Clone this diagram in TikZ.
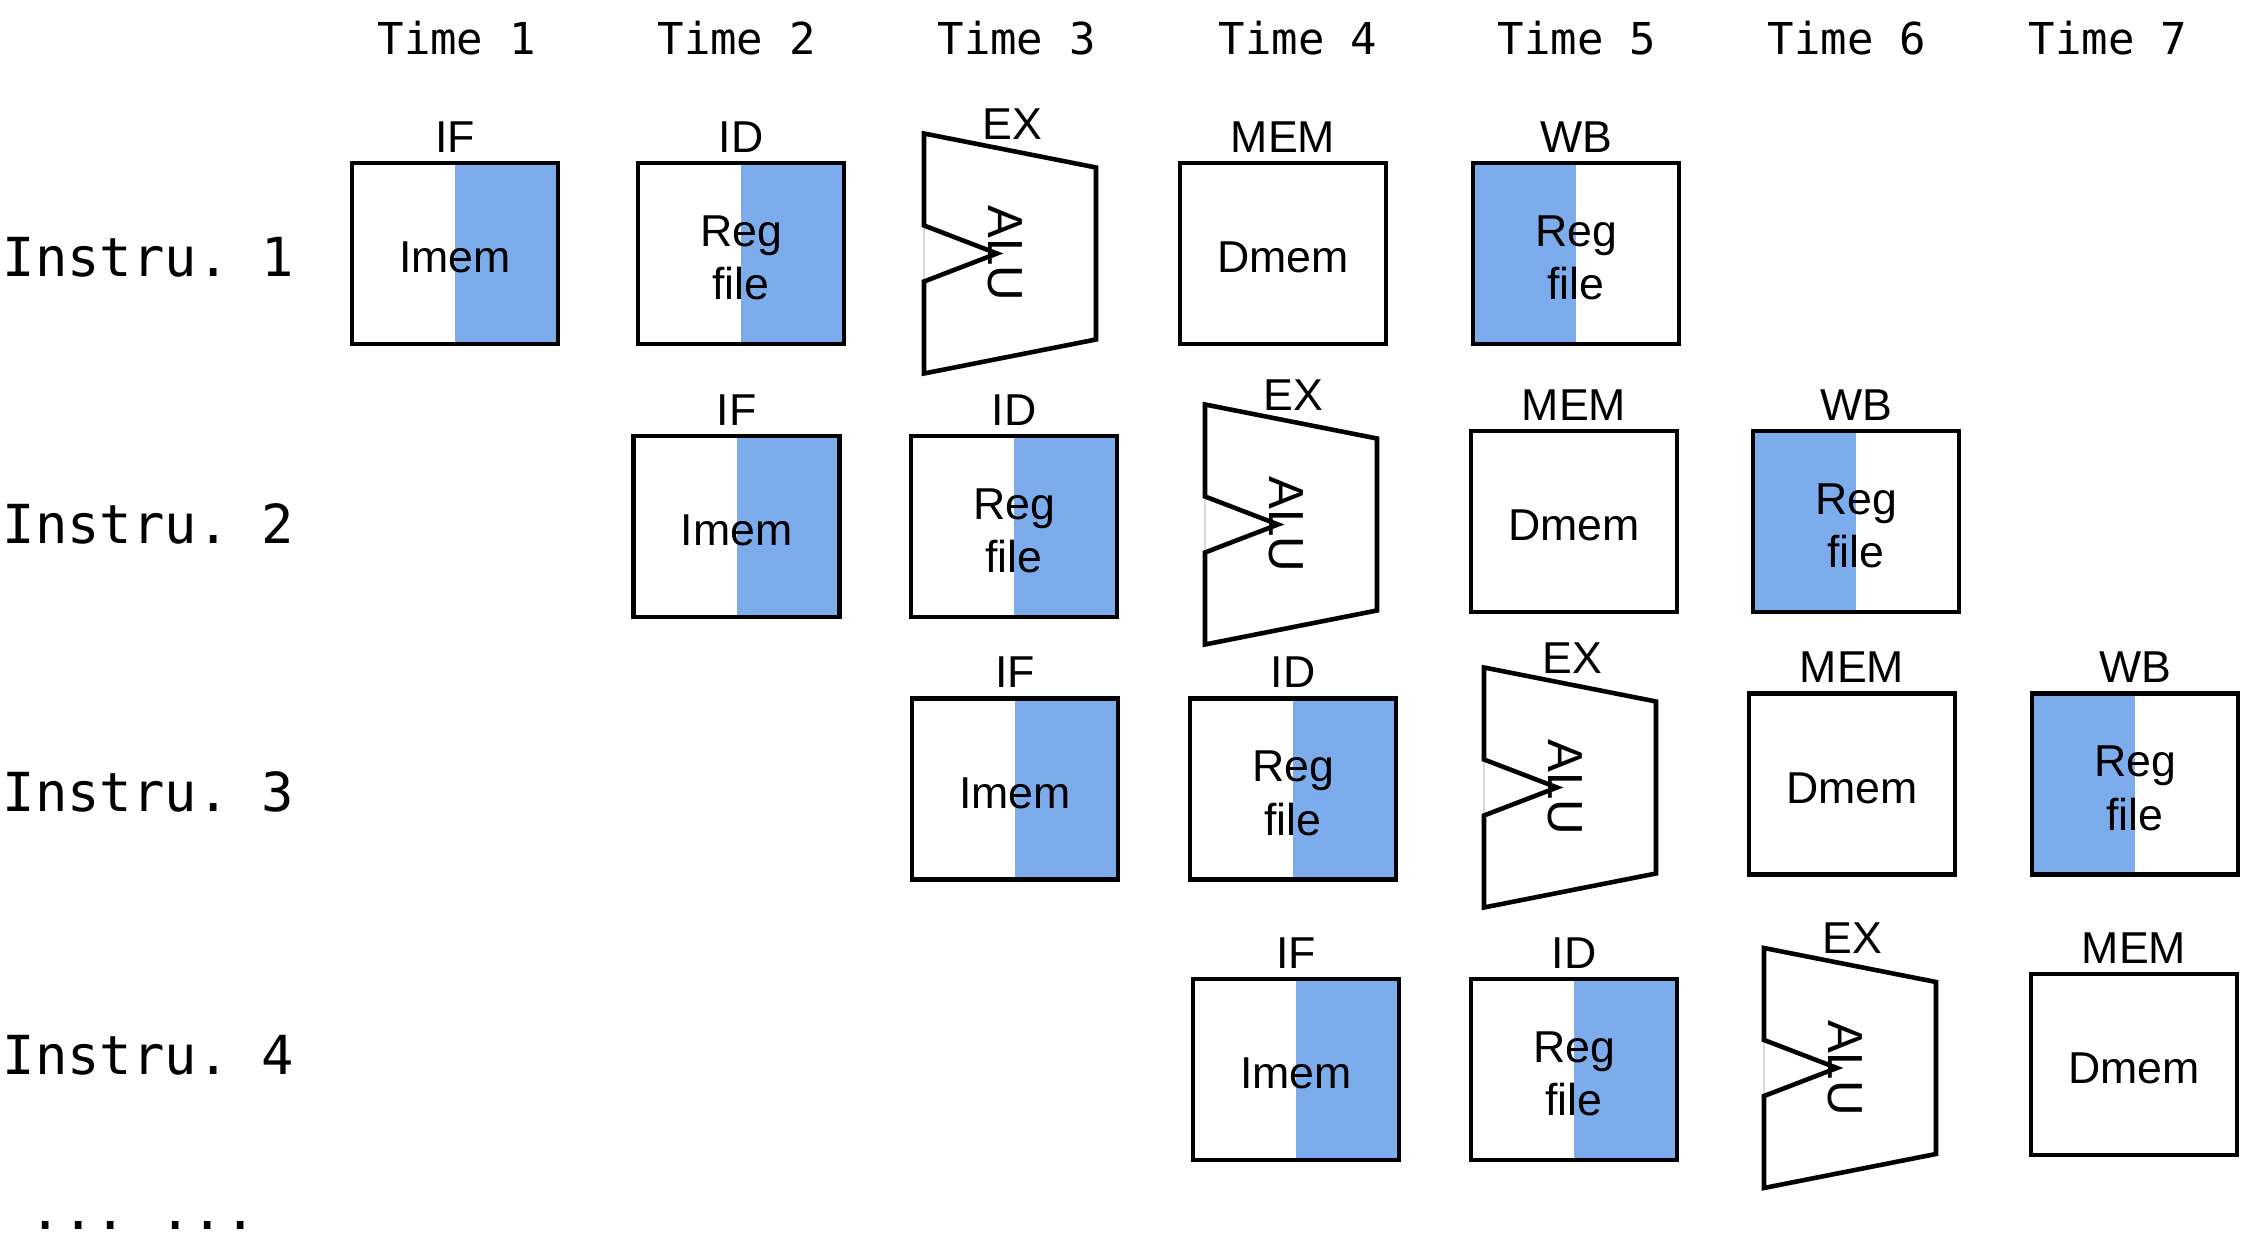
\documentclass[tikz,border=0pt]{standalone}
\usepackage{fontspec}
\setmainfont{Liberation Sans}
\setmonofont{DejaVu Sans Mono}
\usepackage{tikz}
\usetikzlibrary{positioning}
\definecolor{regblue}{RGB}{125,172,236}

\tikzset{
  ulbl/.style={inner sep=0pt, align=center, yshift=-1.2pt, font=\fontsize{12.7}{15.2}\selectfont},
  unit/.style={draw, line width=1.2pt, minimum width=2.06cm, minimum height=1.81cm,
    inner sep=0pt, label={[ulbl]center:#1}},
  rhalf/.style={unit={#1}, path picture={\fill[regblue] (path picture bounding box.north)
    rectangle (path picture bounding box.south east);}},
  lhalf/.style={unit={#1}, path picture={\fill[regblue] (path picture bounding box.north west)
    rectangle (path picture bounding box.south);}},
  stagelbl/.style={inner sep=0pt, font=\fontsize{12.7}{15.2}\selectfont},
  timelbl/.style={inner sep=0pt, anchor=base, font=\ttfamily\fontsize{12.5}{15}\selectfont},
  instlbl/.style={inner sep=0pt, anchor=base west, font=\ttfamily\fontsize{15.3}{18}\selectfont},
  alubody/.style={line width=1.3pt, line join=miter},
  alutext/.style={inner sep=0pt, rotate=-90, font=\fontsize{14}{16}\selectfont}
}

% ALU: name, left x, middle y
\newcommand{\aluunit}[3]{%
  \begin{scope}[shift={(#2,#3)}]
    \draw[gray!30, thin] (0,-28) -- (0,28);
    \draw[alubody] (0,-28) -- (0,-120) -- (172,-86) -- (172,86) -- (0,120) -- (0,28) -- (73,0) -- cycle;
    \node[alutext] (#1) at (81,0) {ALU};
    \node[stagelbl, anchor=base] (#1lbl) at (88,-114) {EX};
  \end{scope}}

\begin{document}
\begin{tikzpicture}[x=0.01cm, y=-0.01cm]
\useasboundingbox (0,0) rectangle (2262,1240);

\node[timelbl] (t1) at (457,55) {Time 1};
\node[timelbl] (t2) at (737,55) {Time 2};
\node[timelbl] (t3) at (1017,55) {Time 3};
\node[timelbl] (t4) at (1298,55) {Time 4};
\node[timelbl] (t5) at (1577,55) {Time 5};
\node[timelbl] (t6) at (1847,55) {Time 6};
\node[timelbl] (t7) at (2108,55) {Time 7};

\node[instlbl] (i1) at (2,277) {Instru. 1};
\node[instlbl] (i2) at (2,544) {Instru. 2};
\node[instlbl] (i3) at (2,812) {Instru. 3};
\node[instlbl] (i4) at (2,1075) {Instru. 4};
\node[instlbl] (more) at (29,1230) {... ...};

% instruction 1
\node[rhalf=Imem] (if1) at (455,253.5) {};
\node[rhalf={Reg\\file}] (id1) at (741,253.5) {};
\aluunit{ex1}{924}{253.5}
\node[unit=Dmem] (mem1) at (1283,253.5) {};
\node[lhalf={Reg\\file}] (wb1) at (1576,253.5) {};
\node[stagelbl, above=0.08cm of if1] (if1lbl) {IF};
\node[stagelbl, above=0.08cm of id1] (id1lbl) {ID};
\node[stagelbl, above=0.08cm of mem1] (mem1lbl) {MEM};
\node[stagelbl, above=0.08cm of wb1] (wb1lbl) {WB};

% instruction 2
\node[rhalf=Imem] (if2) at (736.5,526.5) {};
\node[rhalf={Reg\\file}] (id2) at (1014,526.5) {};
\aluunit{ex2}{1205}{524.5}
\node[unit=Dmem] (mem2) at (1574,521.5) {};
\node[lhalf={Reg\\file}] (wb2) at (1856,521.5) {};
\node[stagelbl, above=0.08cm of if2] (if2lbl) {IF};
\node[stagelbl, above=0.08cm of id2] (id2lbl) {ID};
\node[stagelbl, above=0.08cm of mem2] (mem2lbl) {MEM};
\node[stagelbl, above=0.08cm of wb2] (wb2lbl) {WB};

% instruction 3
\node[rhalf=Imem] (if3) at (1015,789) {};
\node[rhalf={Reg\\file}] (id3) at (1293,789) {};
\aluunit{ex3}{1484}{787.5}
\node[unit=Dmem] (mem3) at (1852,784) {};
\node[lhalf={Reg\\file}] (wb3) at (2135,784) {};
\node[stagelbl, above=0.08cm of if3] (if3lbl) {IF};
\node[stagelbl, above=0.08cm of id3] (id3lbl) {ID};
\node[stagelbl, above=0.08cm of mem3] (mem3lbl) {MEM};
\node[stagelbl, above=0.08cm of wb3] (wb3lbl) {WB};

% instruction 4
\node[rhalf=Imem] (if4) at (1296,1069.5) {};
\node[rhalf={Reg\\file}] (id4) at (1574,1069.5) {};
\aluunit{ex4}{1764}{1068}
\node[unit=Dmem] (mem4) at (2134,1064.5) {};
\node[stagelbl, above=0.08cm of if4] (if4lbl) {IF};
\node[stagelbl, above=0.08cm of id4] (id4lbl) {ID};
\node[stagelbl, above=0.08cm of mem4] (mem4lbl) {MEM};

\end{tikzpicture}
\end{document}
